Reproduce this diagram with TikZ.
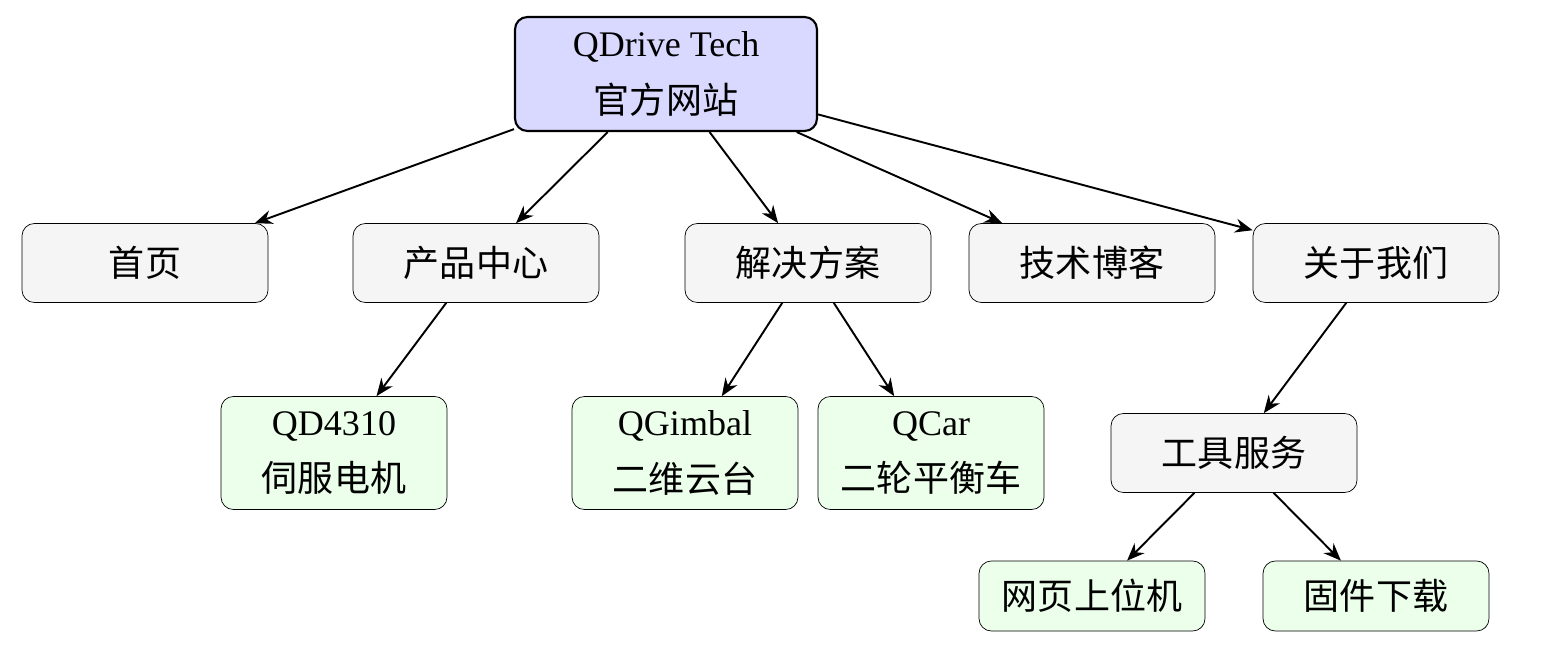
\documentclass[tikz,border=0pt]{standalone}
\usepackage{fontspec}
\setmainfont{Liberation Serif}
\newfontfamily\cjk{Noto Sans CJK SC}
\usetikzlibrary{arrows.meta}
\tikzset{
  box/.style = {draw, rounded corners=7pt, align=center, font=\fontsize{20.5}{32}\selectfont, inner sep=0pt},
  top/.style = {box, line width=1.2pt, fill=blue!15, minimum width=6.04cm, minimum height=2.28cm},
  menu/.style = {box, fill=gray!8, minimum width=4.92cm, minimum height=1.58cm},
  item/.style = {box, fill=green!8, minimum width=4.52cm, minimum height=2.26cm},
  leaf/.style = {box, fill=green!8, minimum width=4.52cm, minimum height=1.4cm},
  arrow/.style = {line width=1.1pt, -{Stealth[length=10pt,width=8pt]}}
}
\begin{document}
\begin{tikzpicture}[x=0.02cm, y=-0.02cm]
  \useasboundingbox (0,0) rectangle (1555,649);

  \node [top] (site) at (666,74) {QDrive Tech\\{\cjk 官方网站}};

  \node [menu] (home) at (145,263) {\cjk 首页};
  \node [menu] (prod) at (476,263) {\cjk 产品中心};
  \node [menu] (sol) at (808,263) {\cjk 解决方案};
  \node [menu] (blog) at (1092,263) {\cjk 技术博客};
  \node [menu] (about) at (1376,263) {\cjk 关于我们};

  \node [item] (motor) at (334,453) {QD4310\\{\cjk 伺服电机}};
  \node [item] (gimbal) at (685,453) {QGimbal\\{\cjk 二维云台}};
  \node [item] (car) at (931,453) {QCar\\{\cjk 二轮平衡车}};
  \node [menu] (tools) at (1234,453) {\cjk 工具服务};

  \node [leaf] (web) at (1092,596) {\cjk 网页上位机};
  \node [leaf] (fw) at (1376,596) {\cjk 固件下载};

  \foreach \n in {home,prod,sol,blog,about}
    \draw[arrow] (site) -- (\n);
  \draw[arrow] (prod) -- (motor);
  \draw[arrow] (sol) -- (gimbal);
  \draw[arrow] (sol) -- (car);
  \draw[arrow] (about) -- (tools);
  \draw[arrow] (tools) -- (web);
  \draw[arrow] (tools) -- (fw);
\end{tikzpicture}
\end{document}
